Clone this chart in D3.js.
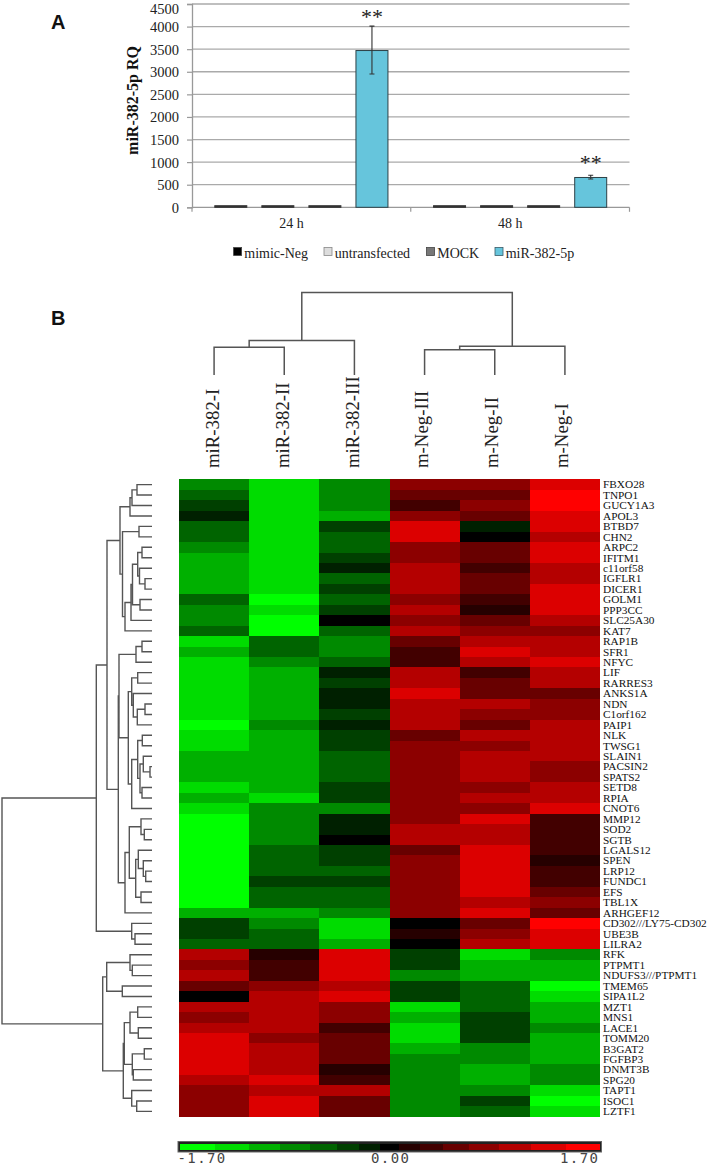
<!DOCTYPE html>
<html><head><meta charset="utf-8">
<script src="https://cdn.jsdelivr.net/npm/d3@7"></script>
<style>html,body{margin:0;padding:0;background:#fff}svg{display:block}</style>
</head><body><svg id="c" width="709" height="1166"></svg>
<script>
// Panel A
const timepoints = ["24 h", "48 h"];
const treatments = ["mimic-Neg", "untransfected", "MOCK", "miR-382-5p"];
const treatmentFill = ["#000000", "#dddddd", "#777777", "#66c5dc"];
const rq24 = [35, 35, 35, 3470];
const rq48 = [35, 35, 35, 660];
const rqErrLow24 = [0, 0, 0, 2950];
const rqErrHigh24 = [0, 0, 0, 4010];
const rqErrLow48 = [0, 0, 0, 627];
const rqErrHigh48 = [0, 0, 0, 708];
const rqTicks = [0, 500, 1000, 1500, 2000, 2500, 3000, 3500, 4000, 4500];

// Panel B
const samples = ["miR-382-I", "miR-382-II", "miR-382-III", "m-Neg-III", "m-Neg-II", "m-Neg-I"];
const genes = ["FBXO28","TNPO1","GUCY1A3","APOL3","BTBD7","CHN2","ARPC2","IFITM1","c11orf58","IGFLR1","DICER1","GOLM1","PPP3CC","SLC25A30","KAT7","RAP1B","SFR1","NFYC","LIF","RARRES3","ANKS1A","NDN","C1orf162","PAIP1","NLK","TWSG1","SLAIN1","PACSIN2","SPATS2","SETD8","RPIA","CNOT6","MMP12","SOD2","SGTB","LGALS12","SPEN","LRP12","FUNDC1","EFS","TBL1X","ARHGEF12","CD302///LY75-CD302","UBE3B","LILRA2","RFK","PTPMT1","NDUFS3///PTPMT1","TMEM65","SIPA1L2","MZT1","MNS1","LACE1","TOMM20","B3GAT2","FGFBP3","DNMT3B","SPG20","TAPT1","ISOC1","LZTF1"];
// colour step per gene, -7 (brightest green) .. 7 (brightest red)
const miR382I = [-4,-3,-2,-1,-3,-3,-4,-5,-5,-5,-5,-3,-4,-4,-3,-6,-5,-6,-6,-6,-6,-6,-6,-7,-6,-6,-5,-5,-5,-6,-5,-6,-7,-7,-7,-7,-7,-7,-7,-7,-7,-5,-2,-2,-3,5,4,5,3,0,5,4,5,6,6,6,6,5,4,4,4];
const miR382II = [-6,-6,-6,-6,-6,-6,-6,-6,-6,-6,-6,-7,-6,-7,-7,-3,-3,-4,-5,-5,-5,-5,-5,-4,-5,-5,-5,-5,-5,-5,-6,-4,-4,-4,-4,-3,-3,-3,-2,-3,-3,-5,-4,-3,-3,1,2,2,4,5,5,5,5,4,5,5,5,6,5,6,6];
const miR382III = [-4,-4,-4,-5,-2,-3,-3,-2,-1,-3,-2,-3,-2,0,-3,-4,-4,-3,-1,-2,-1,-1,-2,-1,-2,-2,-3,-3,-3,-2,-2,-4,-1,-1,0,-2,-2,-3,-2,-3,-3,-4,-6,-6,-5,6,6,6,5,6,4,4,2,3,3,3,1,2,5,3,3];
const mNegIII = [4,3,2,4,6,6,4,4,5,5,5,4,5,4,5,3,2,2,5,5,6,5,5,5,3,4,4,4,4,4,4,4,4,5,5,3,4,4,4,4,4,4,0,1,0,-2,-2,-4,-2,-2,-6,-5,-6,-6,-5,-4,-4,-4,-4,-4,-4];
const mNegII = [4,3,4,3,-1,0,3,3,2,3,3,2,1,3,4,5,6,5,2,3,3,5,4,3,5,4,5,5,5,4,5,4,6,5,5,6,6,6,6,6,5,6,3,4,5,-6,-5,-5,-3,-3,-3,-2,-2,-2,-4,-4,-5,-5,-4,-2,-3];
const mNegI = [6,7,7,6,6,5,6,6,5,5,6,6,6,5,4,5,5,6,5,5,3,4,4,5,5,5,5,4,4,5,5,6,2,2,2,2,1,2,2,3,4,3,7,6,6,-4,-5,-5,-7,-6,-5,-5,-4,-5,-5,-5,-4,-4,-6,-7,-6];
const stepColors = ["#00ff00","#00dc00","#00b000","#008a00","#006400","#004000","#002000","#000000","#260000","#420000","#680000","#8c0000","#b40000","#dc0000","#ff0000"];
const legendEdges = [-1.70,-1.42,-1.14,-0.89,-0.65,-0.43,-0.25,-0.08,0.07,0.24,0.43,0.64,0.88,1.14,1.42,1.70];
const legendLabels = [[-1.70,"-1.70"],[0,"0.00"],[1.70,"1.70"]];
// nested [merge height, child, child]; integers are row indices
const geneTree = [150,
 [55.7,
  [45,
   [32,[22,[20,[15,0,1],2],3],
    [29.5,[13,4,5],
     [27,[21,[19.5,[14.3,[10,6,7],[12.5,8,[7,9,10]]],[12,11,12]],13],14]]],
   [33.7,
    [33,[16,[10,15,16],17],
     [23.7,
      [20.3,[14.3,18,19],[18.7,20,[14.7,[7,21,22],23]]],
      [20.3,[14.3,[9.7,24,25],[12,[8.7,26,[2,27,28]],[10,29,30]]],31]]],
    [27,[22.7,[11,32,[7.7,33,34]],[16.3,[13.7,35,[8.7,36,[6.3,37,38]]],[11,39,40]]],41]]],
  [20.3,42,[17,43,44]]],
 [49.3,
  [45.3,[22,45,[19.7,46,47]],[29.7,48,49]],
  [28.7,
   [27.7,[22,[14.3,50,51],[13.7,52,53]],[19.7,[7.7,54,55],[18.7,56,57]]],
   [20.3,58,[15.3,59,60]]]]];
const sampleTree = [83,[34.7,[28,0,1],2],[29,[25.3,3,4],5]];

const svg = d3.select("#c");
const serif = "'Liberation Serif',serif";
const sans = "'Liberation Sans',sans-serif";

// ---------- Panel A ----------
const yA = d3.scaleLinear().domain([0, 4500]).range([207.3, 4]);
const xGroup = d3.scaleBand().domain(timepoints).range([192, 629.5]);
const xBar = d3.scaleBand().domain(treatments).range([0, xGroup.bandwidth()]).paddingInner(.32).paddingOuter(.4845);
const A = svg.append("g");
A.selectAll("line.grid").data(rqTicks.slice(1)).join("line").attr("class","grid")
 .attr("x1",192).attr("x2",629.5).attr("y1",d=>yA(d)).attr("y2",d=>yA(d))
 .attr("stroke","#aaa").attr("stroke-width",1.3);
const axL = d3.axisLeft(yA).tickValues(rqTicks).tickSize(5).tickPadding(0).tickFormat(d3.format("d"));
const axG = A.append("g").attr("transform","translate(192,0)").call(axL);
axG.select(".domain").attr("stroke","#999").attr("stroke-width",1.3);
axG.selectAll(".tick line").attr("stroke","#999").attr("stroke-width",1.2);
axG.selectAll("text").attr("x",-13).attr("dy",null).attr("y",d=>d===4500?9:5)
 .attr("font-family",serif).attr("font-size",14.5).attr("fill","#222");
A.append("line").attr("x1",192).attr("x2",629.5).attr("y1",yA(0)).attr("y2",yA(0)).attr("stroke","#999").attr("stroke-width",1.3);
[...timepoints.map(t=>xGroup(t)), 629.5].forEach(x=>A.append("line").attr("x1",x).attr("x2",x).attr("y1",yA(0)).attr("y2",yA(0)+4.5).attr("stroke","#999").attr("stroke-width",1.2));
[[timepoints[0],rq24,rqErrLow24,rqErrHigh24],[timepoints[1],rq48,rqErrLow48,rqErrHigh48]].forEach(([t,vals,lo,hi])=>{
  const g = A.append("g").attr("transform",`translate(${xGroup(t)},0)`);
  vals.forEach((v,i)=>{
    const big = i===3;
    g.append("rect").attr("x",xBar(treatments[i])).attr("width",xBar.bandwidth())
     .attr("y",yA(v)).attr("height",yA(0)-yA(v))
     .attr("fill",big?treatmentFill[i]:"#333").attr("stroke",big?"#2d4046":"#333").attr("stroke-width",1);
    if(hi[i]){
      const cx = xBar(treatments[i])+xBar.bandwidth()/2;
      g.append("path").attr("d",`M${cx},${yA(lo[i])}V${yA(hi[i])}M${cx-2.5},${yA(lo[i])}h5M${cx-2.5},${yA(hi[i])}h5`)
       .attr("stroke","#333").attr("stroke-width",1.1).attr("fill","none");
      g.append("text").attr("x",cx).attr("y",yA(hi[i])-(hi[i]>1000?2:5.5)).attr("text-anchor","middle")
       .attr("font-family",serif).attr("font-size",22).attr("fill","#222").text("**");
    }
  });
  A.append("text").attr("x",xGroup(t)+xGroup.bandwidth()/2-10).attr("y",228).attr("text-anchor","middle")
   .attr("font-family",serif).attr("font-size",14).attr("fill","#222").text(t);
});
A.append("text").attr("transform","translate(138,100.5) rotate(-90)").attr("text-anchor","middle")
 .attr("font-family",serif).attr("font-weight","bold").attr("font-size",16).attr("fill","#111").text("miR-382-5p RQ");
const legendX = [233.6,324,426.5,495];
treatments.forEach((t,i)=>{
  A.append("rect").attr("x",legendX[i]).attr("y",247.5).attr("width",8).attr("height",8)
   .attr("fill",treatmentFill[i]).attr("stroke",i===3?"#3a5a66":i===1?"#888":"#444").attr("stroke-width",.8);
  A.append("text").attr("x",legendX[i]+10.7).attr("y",258).attr("font-family",serif).attr("font-size",14).attr("fill","#222").text(t);
});
svg.append("text").attr("x",51).attr("y",28.5).attr("font-family",sans).attr("font-weight","bold").attr("font-size",20).attr("fill","#111").text("A");
svg.append("text").attr("x",51).attr("y",325).attr("font-family",sans).attr("font-weight","bold").attr("font-size",20).attr("fill","#111").text("B");

// ---------- Panel B heat map ----------
const xH = d3.scaleBand().domain(samples).range([179,600]);
const yH = d3.scaleBand().domain(genes).range([479.4,1116.6]);
const colour = d3.scaleQuantize().domain([-7.5,7.5]).range(stepColors);
const H = svg.append("g").attr("shape-rendering","crispEdges");
[miR382I,miR382II,miR382III,mNegIII,mNegII,mNegI].forEach((col,c)=>{
  H.append("g").selectAll("rect").data(col).join("rect")
   .attr("x",xH(samples[c])).attr("width",xH.bandwidth())
   .attr("y",(d,i)=>yH(genes[i])).attr("height",yH.bandwidth()+.5)
   .attr("fill",d=>colour(d));
});
svg.append("g").selectAll("text").data(genes).join("text")
 .attr("x",603).attr("y",d=>yH(d)+yH.bandwidth()/2+3.8)
 .attr("font-family",serif).attr("font-size",11.3).attr("fill","#111").text(d=>d);

samples.forEach(s=>{
  const x = xH(s)+xH.bandwidth()/2 + (s.startsWith("m-")?3.5:5);
  svg.append("text").attr("transform",`translate(${x},468) rotate(-90)`)
   .attr("font-family",serif).attr("font-size",18.8).attr("fill","#222").text(s);
});

// ---------- dendrograms ----------
const kids = d=>Array.isArray(d)?d.slice(1):null;
function layout(tree, leafPos){
  const root = d3.hierarchy(tree,kids);
  root.eachAfter(n=>{
    if(n.children){ n.pos=(n.children[0].pos+n.children[1].pos)/2; n.h=n.data[0]; }
    else { n.pos=leafPos(n.data); n.h=0; }
  });
  return root;
}
const rowH = d3.scaleLinear().domain([0,150]).range([152,2]);
const rowRoot = layout(geneTree,i=>yH(genes[i])+yH.bandwidth()/2);
const rowPath = rowRoot.descendants().filter(n=>n.children).map(n=>{
  const [a,b]=n.children;
  return `M${rowH(a.h)},${a.pos}H${rowH(n.h)}V${b.pos}H${rowH(b.h)}`;
}).join("");
svg.append("path").attr("d",rowPath).attr("fill","none").attr("stroke","#555").attr("stroke-width",1.4);

const colH = d3.scaleLinear().domain([0,83]).range([375,292.5]);
const colRoot = layout(sampleTree,i=>xH(samples[i])+xH.bandwidth()/2);
const colPath = colRoot.descendants().filter(n=>n.children).map(n=>{
  const [a,b]=n.children;
  return `M${a.pos},${colH(a.h)}V${colH(n.h)}H${b.pos}V${colH(b.h)}`;
}).join("");
svg.append("path").attr("d",colPath).attr("fill","none").attr("stroke","#555").attr("stroke-width",1.5);

// ---------- colour bar ----------
const xL = d3.scaleLinear().domain([-1.7,1.7]).range([180.3,600.3]);
svg.append("rect").attr("x",178).attr("y",1141.5).attr("width",423.5).attr("height",10.5).attr("fill","#222").attr("stroke","#666").attr("stroke-width",1);
svg.append("g").attr("shape-rendering","crispEdges").selectAll("rect").data(stepColors).join("rect")
 .attr("x",(d,i)=>xL(legendEdges[i])).attr("width",(d,i)=>xL(legendEdges[i+1])-xL(legendEdges[i]))
 .attr("y",1143.5).attr("height",6.5).attr("fill",d=>d);
svg.append("g").selectAll("text").data(legendLabels).join("text")
 .attr("x",(d,i)=>i===0?177.5:i===1?371:560).attr("y",1163)
 .attr("font-family","'DejaVu Sans Mono',monospace").attr("font-size",14).attr("letter-spacing",1.4).attr("fill","#444")
 .text(d=>d[1]);
</script></body></html>
